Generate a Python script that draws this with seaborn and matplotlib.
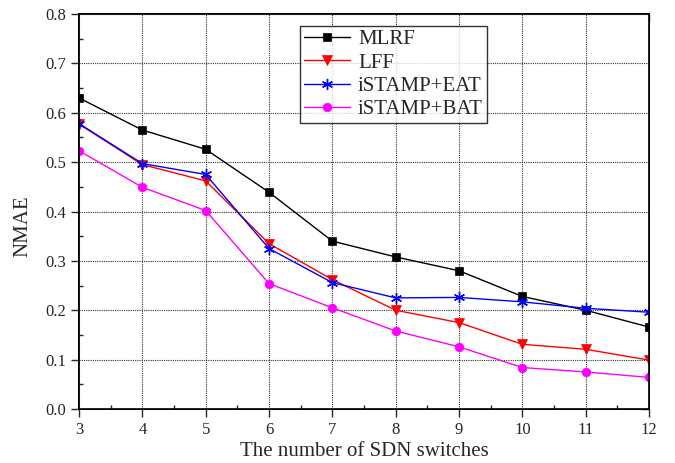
import matplotlib
matplotlib.use("Agg")
import matplotlib.pyplot as plt
import seaborn as sns
import pandas as pd
from matplotlib.ticker import MultipleLocator

switches = [3, 4, 5, 6, 7, 8, 9, 10, 11, 12]
mlrf = [0.630, 0.565, 0.526, 0.439, 0.340, 0.308, 0.280, 0.228, 0.200, 0.166]
lff = [0.577, 0.495, 0.462, 0.335, 0.262, 0.200, 0.175, 0.131, 0.121, 0.099]
eat = [0.578, 0.497, 0.475, 0.325, 0.256, 0.225, 0.226, 0.217, 0.204, 0.196]
bat = [0.523, 0.449, 0.402, 0.254, 0.205, 0.158, 0.126, 0.084, 0.075, 0.064]
names = ["MLRF", "LFF", "iSTAMP+EAT", "iSTAMP+BAT"]

sns.set_style("ticks")
plt.rcParams['font.family'] = ['Liberation Serif', 'DejaVu Serif']

df = pd.DataFrame({
    "x": switches * 4,
    "y": mlrf + lff + eat + bat,
    "method": sum([[n] * len(switches) for n in names], []),
})

L, R, T, B = 79, 649, 14, 409
W, H = 675, 463
fig = plt.figure(figsize=(W / 100, H / 100), dpi=100)
ax = fig.add_axes([L / W, 1 - B / H, (R - L) / W, (B - T) / H])

colors = ["black", "red", "blue", "magenta"]
markers = ["s", "v", (6, 2, 0), "o"]
sizes = [5.8, 6.8, 8, 6.2]
for n, c, m, ms in zip(names, colors, markers, sizes):
    sub = df[df.method == n]
    sns.lineplot(data=sub, x="x", y="y", ax=ax, color=c, marker=m, markersize=ms,
                 linewidth=1, label=n, markeredgecolor=c,
                 markeredgewidth=1.0 if m == (6, 2, 0) else 0.5)

ax.set_xlim(3, 12)
ax.set_ylim(0, 0.8)
ax.xaxis.set_major_locator(MultipleLocator(1))
ax.xaxis.set_minor_locator(MultipleLocator(0.5))
ax.yaxis.set_major_locator(MultipleLocator(0.1))
ax.yaxis.set_minor_locator(MultipleLocator(0.05))
ax.set_yticklabels([f"{v:.1f}" for v in ax.get_yticks()])
ax.grid(True, which="major", color="#333333", linestyle=(0, (1, 1)), linewidth=0.8)
ax.tick_params(which="major", direction="out", length=6, width=1, labelsize=12, pad=3)
ax.tick_params(which="minor", direction="in", length=3, width=1)

# right and top inward ticks
ax2 = ax.twinx()
ax2.set_ylim(0, 0.8)
ax2.yaxis.set_major_locator(MultipleLocator(0.1))
ax2.yaxis.set_minor_locator(MultipleLocator(0.05))
ax2.tick_params(which="both", direction="in", labelright=False)
ax2.tick_params(which="major", length=6, width=1)
ax2.tick_params(which="minor", length=3, width=1)
ax3 = ax.twiny()
ax3.set_xlim(3, 12)
ax3.xaxis.set_major_locator(MultipleLocator(1))
ax3.xaxis.set_minor_locator(MultipleLocator(0.5))
ax3.tick_params(which="both", direction="in", labeltop=False)
ax3.tick_params(which="major", length=6, width=1)
ax3.tick_params(which="minor", length=3, width=1)
for a in (ax, ax2, ax3):
    for s in a.spines.values():
        s.set_linewidth(1.2)
        s.set_color("black")

ax.set_xlabel("The number of SDN switches", fontsize=15, va="center")
ax.set_ylabel("NMAE", fontsize=15, va="center")
ax.xaxis.set_label_coords(0.5, (B - 452) / (B - T))
ax.yaxis.set_label_coords((23 - L) / (R - L), (B - 226) / (B - T))

leg = ax.legend(loc="upper left", bbox_to_anchor=((300 - L) / (R - L), (B - 26) / (B - T)),
                frameon=True, fancybox=False, edgecolor="black", fontsize=15,
                borderpad=0.18, labelspacing=0.18, handlelength=2.2, handletextpad=0.4,
                borderaxespad=0)
leg.get_frame().set_linewidth(1.0)
ax.set_zorder(3)

fig.savefig("out.png", dpi=100)
